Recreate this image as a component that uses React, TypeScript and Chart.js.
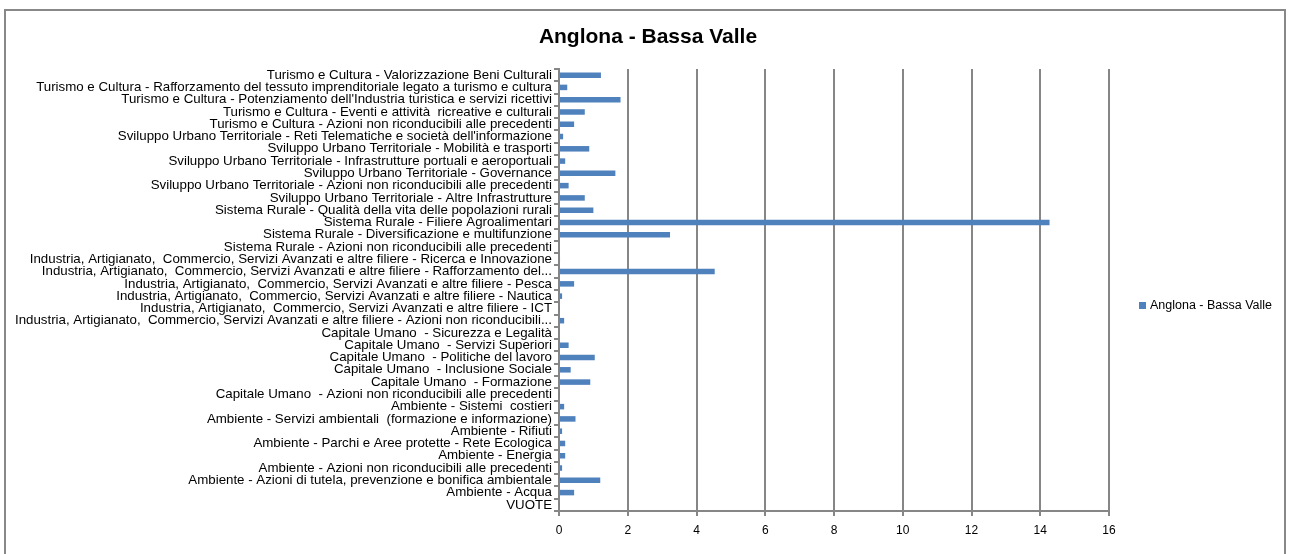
import React, { useEffect, useRef } from "react";
import { Chart, registerables } from "chart.js";

Chart.register(...registerables);

const chartTitle = "Anglona - Bassa Valle";
const seriesName = "Anglona - Bassa Valle";

const categories = [
  "Turismo e Cultura - Valorizzazione Beni Culturali",
  "Turismo e Cultura - Rafforzamento del tessuto imprenditoriale legato a turismo e cultura",
  "Turismo e Cultura - Potenziamento dell'Industria turistica e servizi ricettivi",
  "Turismo e Cultura - Eventi e attività  ricreative e culturali",
  "Turismo e Cultura - Azioni non riconducibili alle precedenti",
  "Sviluppo Urbano Territoriale - Reti Telematiche e società dell'informazione",
  "Sviluppo Urbano Territoriale - Mobilità e trasporti",
  "Sviluppo Urbano Territoriale - Infrastrutture portuali e aeroportuali",
  "Sviluppo Urbano Territoriale - Governance",
  "Sviluppo Urbano Territoriale - Azioni non riconducibili alle precedenti",
  "Sviluppo Urbano Territoriale - Altre Infrastrutture",
  "Sistema Rurale - Qualità della vita delle popolazioni rurali",
  "Sistema Rurale - Filiere Agroalimentari",
  "Sistema Rurale - Diversificazione e multifunzione",
  "Sistema Rurale - Azioni non riconducibili alle precedenti",
  "Industria, Artigianato,  Commercio, Servizi Avanzati e altre filiere - Ricerca e Innovazione",
  "Industria, Artigianato,  Commercio, Servizi Avanzati e altre filiere - Rafforzamento del...",
  "Industria, Artigianato,  Commercio, Servizi Avanzati e altre filiere - Pesca",
  "Industria, Artigianato,  Commercio, Servizi Avanzati e altre filiere - Nautica",
  "Industria, Artigianato,  Commercio, Servizi Avanzati e altre filiere - ICT",
  "Industria, Artigianato,  Commercio, Servizi Avanzati e altre filiere - Azioni non riconducibili...",
  "Capitale Umano  - Sicurezza e Legalità",
  "Capitale Umano  - Servizi Superiori",
  "Capitale Umano  - Politiche del lavoro",
  "Capitale Umano  - Inclusione Sociale",
  "Capitale Umano  - Formazione",
  "Capitale Umano  - Azioni non riconducibili alle precedenti",
  "Ambiente - Sistemi  costieri",
  "Ambiente - Servizi ambientali  (formazione e informazione)",
  "Ambiente - Rifiuti",
  "Ambiente - Parchi e Aree protette - Rete Ecologica",
  "Ambiente - Energia",
  "Ambiente - Azioni non riconducibili alle precedenti",
  "Ambiente - Azioni di tutela, prevenzione e bonifica ambientale",
  "Ambiente - Acqua",
  "VUOTE",
];

const values = [
  1.22, 0.24, 1.79, 0.75, 0.44, 0.12, 0.88, 0.18, 1.64, 0.28, 0.75, 1.0,
  14.27, 3.23, 0, 0.03, 4.53, 0.44, 0.09, 0.02, 0.15, 0, 0.28, 1.04, 0.34,
  0.91, 0.02, 0.15, 0.48, 0.09, 0.18, 0.18, 0.09, 1.2, 0.44, 0.02,
];

const xMin = 0;
const xMax = 16;
const xStep = 2;

const BAR_COLOR = "#4F81BD";
const GRID_COLOR = "#868686";
const FONT = "'Liberation Sans', Arial, sans-serif";

const framePlugin = {
  id: "frameTitleLegend",
  beforeDraw(chart: any) {
    const ctx = chart.ctx;
    ctx.save();
    ctx.fillStyle = "#ffffff";
    ctx.fillRect(0, 0, chart.width, chart.height);
    ctx.strokeStyle = "#888888";
    ctx.lineWidth = 2;
    ctx.strokeRect(5, 10, 1280, 600);
    ctx.restore();
  },
  afterDraw(chart: any) {
    const ctx = chart.ctx;
    ctx.save();
    // title
    ctx.fillStyle = "#000000";
    ctx.font = "bold 21px " + FONT;
    ctx.textAlign = "center";
    ctx.textBaseline = "middle";
    ctx.fillText(chartTitle, 648, 37);
    // legend
    ctx.fillStyle = BAR_COLOR;
    ctx.fillRect(1139, 302, 7, 7);
    ctx.fillStyle = "#000000";
    ctx.font = "12.5px " + FONT;
    ctx.textAlign = "left";
    ctx.fillText(seriesName, 1150, 306);
    ctx.restore();
  },
};

export default function App() {
  const ref = useRef<HTMLCanvasElement | null>(null);

  useEffect(() => {
    if (!ref.current) return;
    const chart = new Chart(ref.current, {
      type: "bar",
      data: {
        labels: categories,
        datasets: [
          {
            label: seriesName,
            data: values,
            backgroundColor: BAR_COLOR,
            borderWidth: 0,
            barPercentage: 0.45,
            categoryPercentage: 1,
          },
        ],
      },
      options: {
        indexAxis: "y",
        animation: false,
        responsive: false,
        devicePixelRatio: 1,
        layout: { padding: { left: 0, right: 181, top: 69, bottom: 0 } },
        plugins: {
          legend: { display: false },
          tooltip: { enabled: false },
          title: { display: false },
        },
        scales: {
          x: {
            type: "linear",
            min: xMin,
            max: xMax,
            ticks: {
              stepSize: xStep,
              color: "#000000",
              font: { family: FONT, size: 12 },
              padding: 7,
            },
            grid: {
              color: GRID_COLOR,
              lineWidth: 2,
              tickLength: 5,
              drawTicks: true,
            },
            border: { color: GRID_COLOR, width: 2 },
            afterFit(scale: any) {
              scale.height = 43;
            },
          },
          y: {
            type: "category",
            offset: true,
            ticks: {
              color: "#000000",
              font: { family: FONT, size: 13.3, lineHeight: 1 },
              padding: 2,
              autoSkip: false,
            },
            grid: {
              offset: true,
              drawOnChartArea: false,
              drawTicks: true,
              tickLength: 5,
              color: GRID_COLOR,
              lineWidth: 2,
            },
            border: { color: GRID_COLOR, width: 2 },
            afterFit(scale: any) {
              scale.width = 559;
            },
          },
        },
      },
      plugins: [framePlugin],
    });
    return () => chart.destroy();
  }, []);

  return (
    <div style={{ position: "fixed", left: 0, top: 0, width: 1290, height: 554, background: "#fff" }}>
      <canvas ref={ref} width={1290} height={554} style={{ display: "block", width: 1290, height: 554 }} />
    </div>
  );
}
